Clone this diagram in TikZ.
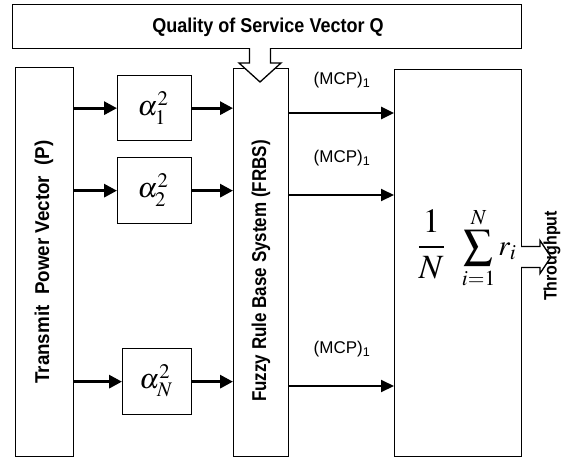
\documentclass[tikz,border=0pt]{standalone}
\usepackage{mathptmx}
\usepackage[no-math]{fontspec}
\setmainfont{Liberation Sans}
\usetikzlibrary{arrows.meta}
\begin{document}
\begin{tikzpicture}[x=1pt,y=-1pt,
  box/.style={draw,line width=1.3pt,inner sep=0pt,anchor=north west},
  lbl/.style={inner sep=0pt,font=\bfseries\fontsize{20}{22}\selectfont},
  mcp/.style={inner sep=0pt,font=\fontsize{17}{19}\selectfont},
  gain/.style={inner sep=0pt,font=\fontsize{28}{30}\selectfont},
  arrL/.style={line width=3pt,-{Triangle[length=13pt,width=13pt]}},
  arrR/.style={line width=2pt,-{Triangle[length=13pt,width=12pt]}},
  hollow/.style={draw,fill=white,line width=1.3pt,line join=miter}]
\useasboundingbox (0,0) rectangle (562,458);

% top box
\node[box,minimum width=509pt,minimum height=44pt] (qos) at (12,4) {};
\node[lbl] (qoslbl) at (268,27) {\scalebox{0.9}[1]{Quality of Service Vector Q}};

% transmit power vector
\node[box,minimum width=58pt,minimum height=389pt] (tx) at (15,67) {};
\node[lbl,rotate=90] (txlbl) at (44,262) {\scalebox{0.94}[1]{Transmit\ \ Power Vector\ \ (P)}};

% channel gain boxes
\node[box,minimum width=74pt,minimum height=65pt] (a1) at (117,75) {};
\node[box,minimum width=74pt,minimum height=66pt] (a2) at (117,157) {};
\node[box,minimum width=69pt,minimum height=66pt] (aN) at (122,348) {};
\node[gain] (a1t) at (153,108) {$\alpha_1^2$};
\node[gain] (a2t) at (153,190) {$\alpha_2^2$};
\node[gain] (aNt) at (156,381) {$\alpha_N^2$};

% fuzzy rule base system
\node[box,minimum width=55pt,minimum height=388pt] (frbs) at (233,68) {};
\node[lbl,rotate=90] (frbslbl) at (261,271) {\scalebox{0.85}[1]{Fuzzy Rule Base System (FRBS)}};

% averaging block
\node[box,minimum width=127pt,minimum height=387pt] (sum) at (394,69) {};
\node[inner sep=0pt] (sumf) at (467,248)
  {{\fontsize{34}{38}\selectfont$\displaystyle\frac{1}{N}$}\hspace{17pt}{\fontsize{29}{32}\selectfont$\displaystyle\sum_{i=1}^{N}r_i$}};

% inputs to the gain boxes and on to the FRBS
\draw[arrL] (tx.east |- a1.west) -- (a1.west);
\draw[arrL] (tx.east |- a2.west) -- (a2.west);
\draw[arrL] (tx.east |- aN.west) -- (aN.west);
\draw[arrL] (a1.east) -- (a1.east -| frbs.west);
\draw[arrL] (a2.east) -- (a2.east -| frbs.west);
\draw[arrL] (aN.east) -- (aN.east -| frbs.west);

% FRBS outputs
\coordinate (m1) at (288,113);
\coordinate (m2) at (288,195);
\coordinate (m3) at (288,386);
\draw[arrR,line width=2.6pt] (m1) -- (m1 -| sum.west);
\draw[arrR] (m2) -- (m2 -| sum.west);
\draw[arrR] (m3) -- (m3 -| sum.west);
\node[mcp] (mcp1) at (342,80) {(MCP)\textsubscript{1}};
\node[mcp] (mcp2) at (342,158) {(MCP)\textsubscript{1}};
\node[mcp] (mcp3) at (342,349) {(MCP)\textsubscript{1}};

% QoS block arrow into the FRBS
\coordinate (qa) at (260,48);
\path[hollow] (qa) ++(-10.5,0) -- ++(0,15) -- ++(-10.5,0) -- ++(21,19)
  -- ++(21,-19) -- ++(-10.5,0) -- ++(0,-15);

% throughput block arrow
\coordinate (tp) at (521,257);
\path[hollow] (tp) ++(0,-10.5) -- ++(19,0) -- ++(0,-6) -- ++(11,16.5)
  -- ++(-11,16.5) -- ++(0,-6) -- ++(-19,0);
\node[lbl,font=\bfseries\fontsize{18}{20}\selectfont,rotate=90] (tplbl) at (552,256) {\scalebox{0.89}[1]{Throughput}};
\end{tikzpicture}
\end{document}
